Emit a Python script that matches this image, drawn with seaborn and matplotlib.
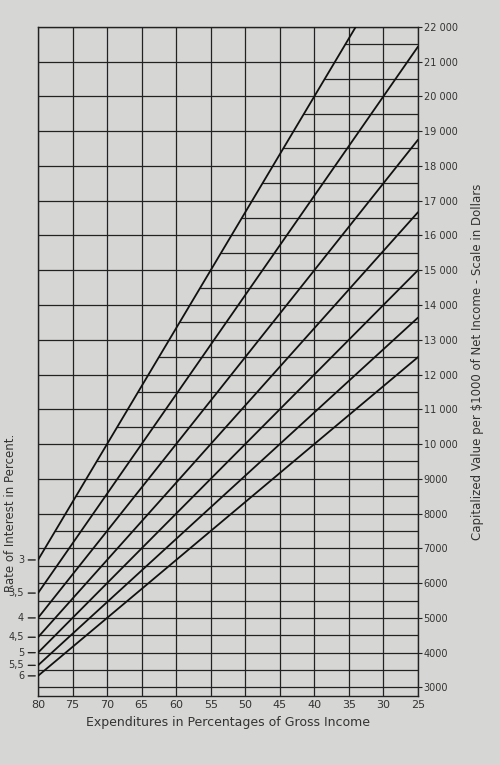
import numpy as np
import matplotlib
matplotlib.use("Agg")
import matplotlib.pyplot as plt
import seaborn as sns
import pandas as pd

rates = [3, 3.5, 4, 4.5, 5, 5.5, 6]
rate_labels = ["3", "3,5", "4", "4,5", "5", "5,5", "6"]
x_ends = [80, 25]
value_at_80 = [6667, 5714, 5000, 4444, 4000, 3636, 3333]
value_at_25 = [25000, 21429, 18750, 16667, 15000, 13636, 12500]
x_ticks = [80, 75, 70, 65, 60, 55, 50, 45, 40, 35, 30, 25]
y_ticks = [3000, 4000, 5000, 6000, 7000, 8000, 9000, 10000, 11000, 12000, 13000,
           14000, 15000, 16000, 17000, 18000, 19000, 20000, 21000, 22000]

def fmt(v):
    return f"{v//1000} {v%1000:03d}" if v >= 10000 else str(v)

rows = []
for r, a, b in zip(rates, value_at_80, value_at_25):
    rows.append(dict(rate=r, x=x_ends[0], v=a))
    rows.append(dict(rate=r, x=x_ends[1], v=b))
df = pd.DataFrame(rows)

sns.set_style("white")
plt.rcParams['font.family'] = ['DejaVu Sans']
fig = plt.figure(figsize=(5, 7.65), dpi=100, facecolor="#d6d6d4")
ax = fig.add_axes([0.076, 0.09, 0.76, 0.875])
ax.set_facecolor("#d6d6d4")
ax.set_xlim(80, 25)
ax.set_ylim(2750, 22000)

lc = "#222222"
for x in x_ticks:
    ax.axvline(x, color=lc, lw=0.9, zorder=1)
for y in y_ticks:
    ax.axhline(y, color=lc, lw=0.9, zorder=1)
# half-level lines to the right of the 3% line
for y in range(3500, 22000, 1000):
    xs = np.interp(y, [value_at_80[0], value_at_25[0]], x_ends)
    xs = min(xs, 80)
    ax.plot([xs, 25], [y, y], color=lc, lw=0.9, zorder=1)

sns.lineplot(data=df, x="x", y="v", units="rate", estimator=None, color="#111111",
             lw=1.3, ax=ax, zorder=3, legend=False)

for s in ax.spines.values():
    s.set_color(lc); s.set_linewidth(1)
ax.set_xticks(x_ticks)
ax.set_xticklabels([str(x) for x in x_ticks], fontsize=8, color="#333")
ax.tick_params(axis="x", length=0, pad=3)
ax.set_yticks([])
ax.set_xlabel("Expenditures in Percentages of Gross Income", fontsize=9, color="#333", labelpad=4)
ax.set_ylabel("")

for r, lab, v in zip(rates, rate_labels, value_at_80):
    ax.annotate(lab, xy=(0, v), xycoords=("axes fraction", "data"), xytext=(-10, 0),
                textcoords="offset points", ha="right", va="center", fontsize=7, color="#333",
                annotation_clip=False)
    ax.annotate("", xy=(0, v), xycoords=("axes fraction", "data"), xytext=(-9, 0),
                textcoords="offset points", annotation_clip=False,
                arrowprops=dict(arrowstyle="-", color=lc, lw=1))

ax2 = ax.twinx()
ax2.set_ylim(ax.get_ylim())
ax2.set_yticks(y_ticks)
ax2.set_yticklabels([fmt(v) for v in y_ticks], fontsize=7, color="#333")
ax2.tick_params(axis="y", length=3, pad=1, color=lc)
for s in ax2.spines.values():
    s.set_visible(False)
ax2.set_ylabel("Capitalized Value per $1000 of Net Income - Scale in Dollars",
               fontsize=8.5, color="#333", labelpad=10)

fig.text(0.022, 0.33, "Rate of Interest in Percent.", rotation=90, fontsize=8.5,
         color="#333", ha="center", va="center")

fig.savefig("out.png", dpi=100, facecolor=fig.get_facecolor())
